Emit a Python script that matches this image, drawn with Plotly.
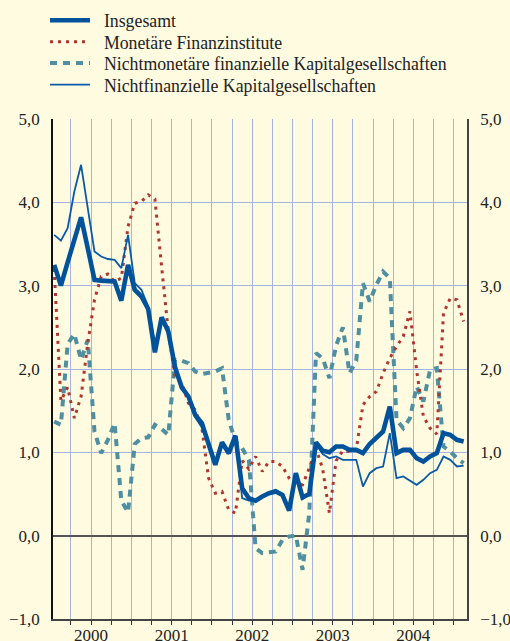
import plotly.graph_objects as go

# month index: 0 = Jan 2000 ... 61 = Feb 2005
months = list(range(62))

insgesamt = [3.25, 3.00, 3.28, 3.55, 3.82, 3.45, 3.07, 3.06, 3.06, 3.05, 2.82, 3.25,
             2.95, 2.87, 2.72, 2.20, 2.62, 2.45, 2.02, 1.78, 1.67, 1.45, 1.35, 1.12,
             0.85, 1.12, 0.99, 1.20, 0.57, 0.45, 0.42, 0.47, 0.51, 0.53, 0.49, 0.30,
             0.75, 0.46, 0.50, 1.12, 1.02, 1.00, 1.07, 1.07, 1.03, 1.03, 0.99, 1.10,
             1.17, 1.25, 1.55, 0.99, 1.03, 1.03, 0.93, 0.89, 0.95, 0.99, 1.23, 1.21,
             1.15, 1.13]

monetaere = [3.20, 1.62, 1.78, 1.41, 1.67, 2.31, 2.83, 3.11, 3.14, 3.05, 3.09, 3.71,
             3.99, 4.01, 4.09, 4.04, 3.23, 2.45, 1.91, 1.83, 1.59, 1.51, 1.29, 0.69,
             0.51, 0.53, 0.31, 0.27, 0.90, 0.80, 0.95, 0.77, 0.89, 0.89, 0.83, 0.69,
             0.62, 0.61, 0.81, 1.05, 0.80, 0.27, 0.90, 1.02, 1.01, 1.03, 1.57, 1.67,
             1.73, 1.95, 2.13, 2.27, 2.39, 2.69, 1.98, 1.43, 1.29, 1.22, 2.67, 2.85,
             2.83, 2.57]

nichtmonetaere = [1.37, 1.33, 2.30, 2.42, 2.11, 2.35, 1.25, 0.99, 1.15, 1.35, 0.42, 0.28,
                  1.10, 1.17, 1.18, 1.33, 1.28, 1.21, 2.11, 2.10, 2.07, 1.97, 1.94, 1.95,
                  1.97, 2.01, 1.39, 1.13, 1.05, 0.91, -0.15, -0.21, -0.20, -0.19, -0.05, -0.01,
                  0.00, -0.41, 0.27, 2.19, 2.13, 1.89, 2.28, 2.50, 1.95, 2.10, 3.03, 2.81,
                  3.01, 3.17, 3.09, 1.39, 1.29, 1.41, 1.79, 1.61, 1.99, 2.01, 1.07, 1.01,
                  0.93, 0.87]

nichtfinanz = [3.61, 3.54, 3.69, 4.13, 4.45, 3.95, 3.41, 3.35, 3.32, 3.31, 3.21, 3.61,
               3.03, 2.95, 2.75, 2.30, 2.60, 2.50, 2.05, 1.78, 1.65, 1.42, 1.30, 1.10,
               0.85, 1.10, 0.98, 1.20, 0.45, 0.42, 0.42, 0.48, 0.52, 0.55, 0.50, 0.30,
               0.73, 0.44, 0.50, 1.10, 0.98, 0.93, 0.95, 0.91, 0.91, 0.91, 0.59, 0.75,
               0.81, 0.83, 1.23, 0.69, 0.71, 0.66, 0.61, 0.67, 0.75, 0.79, 0.95, 0.91,
               0.83, 0.84]

years = ["2000", "2001", "2002", "2003", "2004"]
year_centers = [5.5, 17.5, 29.5, 41.5, 53.5]
quarter_bounds = [2.5 + 3 * k for k in range(20)]
y_ticks = [-1, 0, 1, 2, 3, 4, 5]

BG = "#fffbe1"
GRID = "#a8b4e0"
FONT = dict(family="Liberation Serif", size=17, color="#222222")
LFONT = dict(family="Liberation Serif", size=17.8, color="#222222")
XR = [-0.18, 61.5]
YR = [-1, 5]
NB = "\u00a0\u00a0"

fig = go.Figure()
fig.add_trace(go.Scatter(x=months, y=nichtmonetaere, mode="lines",
                         name=NB + "Nichtmonetäre finanzielle Kapitalgesellschaften",
                         line=dict(color="#4f8fa0", width=4, dash="7px,6px"),
                         legend="legend3"))
fig.add_trace(go.Scatter(x=months, y=monetaere, mode="lines",
                         name=NB + "Monetäre Finanzinstitute",
                         line=dict(color="#b0352f", width=3, dash="3px,5px"),
                         legend="legend2"))
fig.add_trace(go.Scatter(x=months, y=nichtfinanz, mode="lines",
                         name=NB + "Nichtfinanzielle Kapitalgesellschaften",
                         line=dict(color="#0a5aa8", width=1.8),
                         legend="legend4"))
fig.add_trace(go.Scatter(x=months, y=insgesamt, mode="lines",
                         name=NB + "Insgesamt", xaxis="x2", yaxis="y2",
                         line=dict(color="#00529b", width=4.6),
                         legend="legend"))


def leg(center_px):
    return dict(xref="container", yref="container",
                x=45 / 510, xanchor="left",
                y=1 - center_px / 641, yanchor="middle",
                bgcolor="rgba(0,0,0,0)", font=LFONT, itemwidth=40)


fig.update_layout(
    width=510, height=641,
    margin=dict(l=53, r=43, t=119, b=22, autoexpand=False),
    paper_bgcolor=BG, plot_bgcolor=BG,
    separators=",.",
    font=FONT,
    showlegend=True,
    legend=leg(20.7), legend2=leg(42.2), legend3=leg(63.5), legend4=leg(85),
    xaxis=dict(range=XR, tickvals=quarter_bounds, showticklabels=False,
               ticks="outside", ticklen=4, tickcolor="#333333", tickwidth=1.2,
               showgrid=True, gridcolor=GRID, gridwidth=1.3,
               showline=True, linecolor="#444444", linewidth=1.5,
               zeroline=False, automargin=False),
    xaxis2=dict(range=XR, overlaying="x", anchor="y2", side="bottom",
                tickvals=year_centers, ticktext=years, ticks="",
                showgrid=False, showline=False, zeroline=False,
                ticklabelstandoff=4, tickfont=FONT, automargin=False),
    yaxis=dict(range=YR, tickvals=y_ticks, tickformat=".1f", ticks="",
               showgrid=True, gridcolor=GRID, gridwidth=1.3,
               zeroline=True, zerolinecolor="#555555", zerolinewidth=1.6,
               showline=True, linecolor="#111111", linewidth=1.6,
               ticklabelstandoff=8, tickfont=FONT, automargin=False),
    yaxis2=dict(range=YR, overlaying="y", anchor="x2", side="right",
                tickvals=y_ticks, tickformat=".1f", ticks="",
                showgrid=False, zeroline=False,
                showline=True, linecolor="#444444", linewidth=1.5,
                ticklabelstandoff=8, tickfont=FONT, automargin=False),
)

fig.write_html(
    "out.html",
    config={"displayModeBar": False},
    post_script="document.body.style.margin='0';document.body.style.padding='0';"
                "document.body.style.overflow='hidden';",
)
